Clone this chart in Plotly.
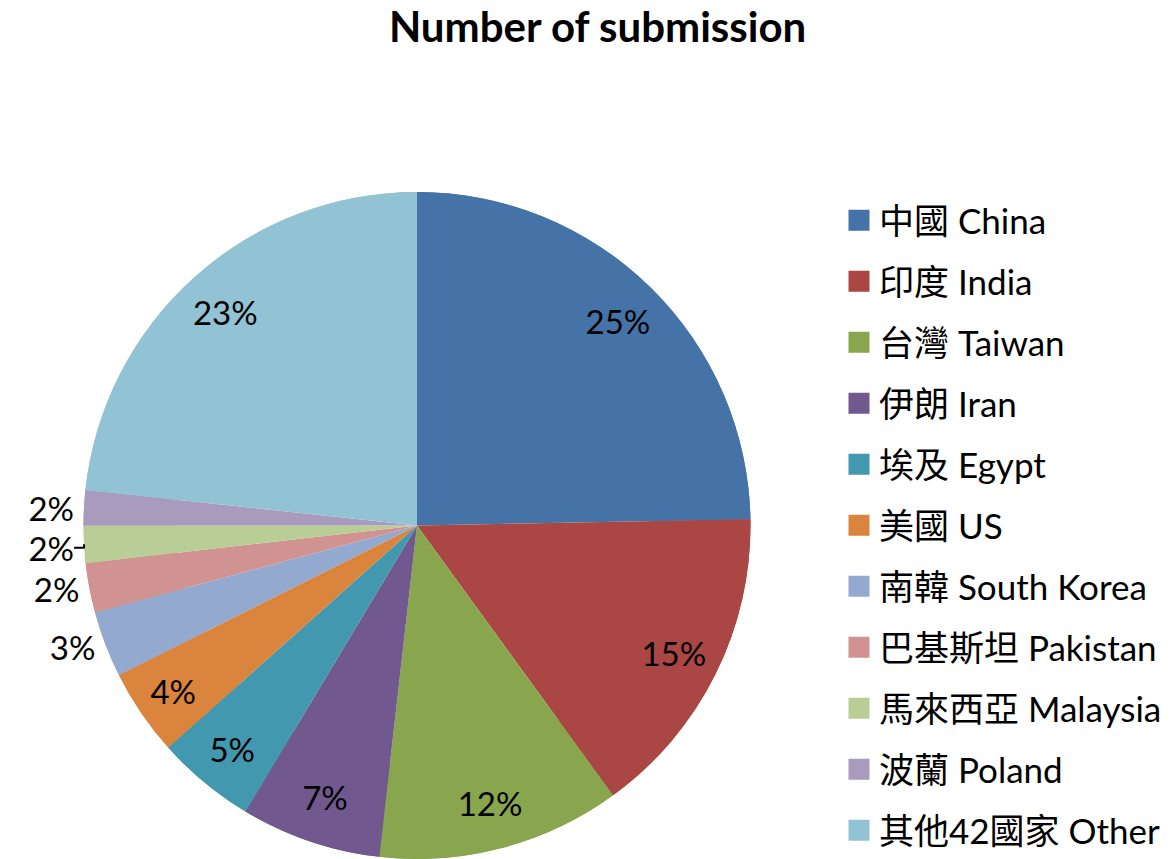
import plotly.graph_objects as go

# submissions by country (percent of total)
countries = ["中國 China", "印度 India", "台灣 Taiwan", "伊朗 Iran", "埃及 Egypt",
             "美國 US", "南韓 South Korea", "巴基斯坦 Pakistan", "馬來西亞 Malaysia",
             "波蘭 Poland", "其他42國家 Other"]
shares = [24.7, 15.3, 11.8, 6.8, 4.8, 4.2, 3.2, 2.4, 1.8, 1.7, 23.3]
colors = ["#4572A7", "#AA4643", "#89A54E", "#71588F", "#4198AF", "#DB843D",
          "#93A9CF", "#D19392", "#B9CD96", "#A99BBD", "#92C3D4"]
label_pos = ["inside"] * 6 + ["outside"] * 4 + ["inside"]

W, H = 1174, 859
FONT = "Lato, Noto Sans CJK TC, sans-serif"
pie_domain = dict(x=[83.5 / W, 750.5 / W], y=[0, (H - 192) / H])

fig = go.Figure()
# solid pie underneath
fig.add_trace(go.Pie(
    labels=countries, values=shares, sort=False, direction="clockwise",
    marker=dict(colors=colors, line=dict(width=0)),
    textinfo="none", domain=pie_domain, showlegend=False, hoverinfo="skip",
))
# same pie as a ring on top, so the percentages sit near the rim like Excel's
fig.add_trace(go.Pie(
    labels=countries, values=shares, sort=False, direction="clockwise", hole=0.72,
    marker=dict(colors=colors, line=dict(width=0)),
    texttemplate="%{percent:.0%}", textposition=label_pos,
    insidetextorientation="horizontal",
    textfont=dict(family=FONT, size=33, color="black"),
    domain=pie_domain, showlegend=False, hoverinfo="label+percent",
))

# legend entries, one group each so the rows can be spaced out
for name, c in zip(countries, colors):
    fig.add_trace(go.Scatter(
        x=[None], y=[None], mode="markers", name=name, legendgroup=name,
        marker=dict(symbol="square", size=16, color=c, line=dict(width=5, color=c)),
    ))

fig.update_layout(
    width=W, height=H,
    margin=dict(l=0, r=0, t=0, b=0, autoexpand=False),
    paper_bgcolor="white", plot_bgcolor="white",
    font=dict(family=FONT, color="black"),
    title=dict(text="Number of submission", x=0.509, xanchor="center",
               y=1 - 27 / H, yanchor="middle",
               font=dict(family=FONT, size=42, weight="bold", color="black")),
    xaxis=dict(visible=False), yaxis=dict(visible=False),
    legend=dict(x=839 / W, xanchor="left", y=1 - 191 / H, yanchor="top",
                font=dict(family=FONT, size=35, color="black"),
                traceorder="grouped", tracegroupgap=12.5, itemsizing="trace"),
)

fig.write_html("out.html", config={"displayModeBar": False},
               post_script="document.body.style.margin = '0';")
